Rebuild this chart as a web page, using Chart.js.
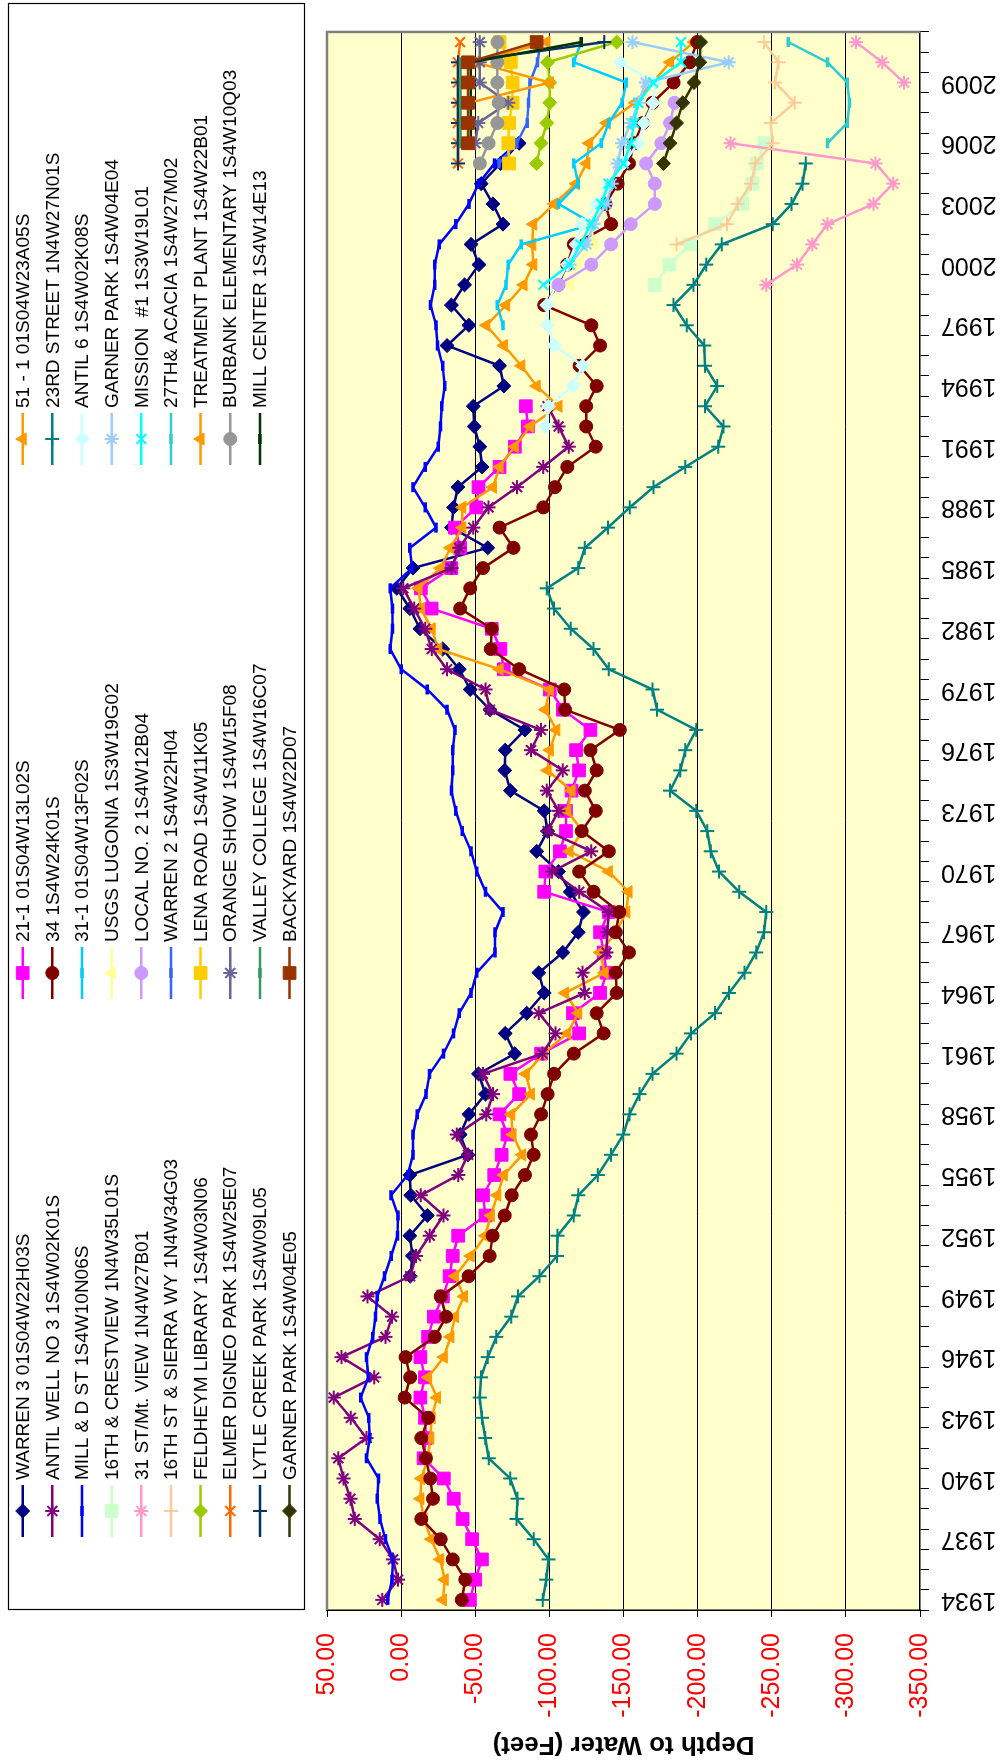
<!DOCTYPE html>
<html>
<head>
<meta charset="utf-8">
<script src="https://cdn.jsdelivr.net/npm/chart.js@4.4.1/dist/chart.umd.min.js"></script>
<style>
  html, body { margin: 0; padding: 0; background: #fff; overflow: hidden; }
  /* the chart is laid out landscape and turned a quarter to the left */
  #wrap {
    position: absolute; left: 0; top: 1762px;
    width: 1762px; height: 1005px;
    transform-origin: 0 0; transform: rotate(-90deg);
  }
</style>
</head>
<body>
<div id="wrap"><canvas id="chart" width="1762" height="1005"></canvas></div>
<script>
(() => {
  const YEARS = [
    1934, 1935, 1936, 1937, 1938, 1939, 1940, 1941, 1942, 1943,
    1944, 1945, 1946, 1947, 1948, 1949, 1950, 1951, 1952, 1953,
    1954, 1955, 1956, 1957, 1958, 1959, 1960, 1961, 1962, 1963,
    1964, 1965, 1966, 1967, 1968, 1969, 1970, 1971, 1972, 1973,
    1974, 1975, 1976, 1977, 1978, 1979, 1980, 1981, 1982, 1983,
    1984, 1985, 1986, 1987, 1988, 1989, 1990, 1991, 1992, 1993,
    1994, 1995, 1996, 1997, 1998, 1999, 2000, 2001, 2002, 2003,
    2004, 2005, 2006, 2007, 2008, 2009, 2010, 2011,
  ];

  const Y_TICKS = [50, 0, -50, -100, -150, -200, -250, -300, -350];

  // depth to water per well, each list starts at the year given beside it
  const warren3 = [ // 1950
    -6.1, -7.6, -5.9, -17.7, -6.5, -5.9, -45.1, -39.8, -45.7, -56.9,
    -52.2, -76.7, -70.2, -84.7, -96.5, -92.9, -109.1, -119.5, -123.0, -114.0,
    -106.2, -91.4, -98.8, -96.5, -73.7, -69.9, -70.2, -83.5, -59.9, -46.6,
    -39.2, -28.0, -12.7, -5.9, 2.9, -8.0, -58.4, -34.0, -35.4, -38.3,
    -54.6, -53.1, -49.3, -48.7, -69.3, -66.4, -31.0, -45.7, -33.9, -42.8,
    -52.5, -47.2, -68.7, -61.9, -54.0, -67.0, -79.6,
  ];
  const antilWell3 = [ // 1934
    12.7, 2.1, 5.5, 14.5, 31.2, 34.2, 38.8, 42.4, 23.3, 33.9,
    45.5, 18.2, 40.3, 10.6, 6.1, 22.7, -6.1, -10.0, -19.3, -28.6,
    -13.3, -38.6, -45.1, -37.5, -57.5, -61.9, -55.2, -95.3, -104.1, -92.9,
    -123.9, -122.4, -138.6, -139.0, -140.1, -120.1, -101.8, -128.3, -98.8, -106.2,
    -98.2, -109.1, -87.6, -94.4, -59.9, -56.9, -31.0, -20.6, -16.2, -8.8,
    -1.5, -33.9, -39.2, -48.7, -59.0, -78.2, -95.9, -113.0, -106.2, -98.8,
  ];
  const millD = [ // 1934
    9.1, 6.1, 5.5, 10.6, 14.2, 16.1, 15.2, 23.3, 21.2, 21.8,
    27.3, 22.1, 23.3, 19.1, 17.3, 16.1, 11.2, 6.7, 2.5, 2.1,
    6.8, -4.4, -8.0, -8.0, -10.9, -16.8, -19.2, -28.6, -35.4, -39.2,
    -47.2, -51.0, -63.4, -63.4, -68.7, -56.9, -51.0, -47.2, -41.3, -36.9,
    -33.9, -34.8, -34.8, -36.3, -31.0, -17.7, 0.0, 7.4, 5.9, 5.9,
    7.4, -7.4, -5.9, -23.6, -16.2, -8.0, -16.2, -25.1, -26.5, -27.4,
    -29.5, -28.0, -24.5, -23.6, -19.8, -22.7, -22.7, -25.7, -36.9, -45.7,
    -52.2, -63.0, -78.0,
  ];
  const crestview16 = [-171, -181, -195, -212, -230, -237, -240, -245]; // 1999
  const mtView31 = [ // 1999
    -246.3, -267.0, -277.3, -287.6, -318.6, -331.9, -320.0, -222.1, null, null,
    -339.2, -324.5, -306.8,
  ];
  const sierra16 = [-185.8, -219.8, -227.1, -236.0, -238.9, -250.7, -249.3, -265.5, -252.2, -254.6, -244.8]; // 2001
  const feldheym = [-91.4, -94.4, -98.2, -100.3, -100.3, -98.8, -145.4]; // 2005
  const elmerDigneo = [-38.3, -38.3, -38.3, -38.3, -38.3, -38.3, -39.8]; // 2005
  const lytleCreek = [-38.3, -38.3, -38.3, -38.3, -38.3, -38.3, -137.0]; // 2005
  const garnerE05 = [-177.0, -181.4, -185.8, -190.0, -197.6, -201.5, -202.0]; // 2005

  const well21 = [ // 1934
    -46.4, -50.0, -54.5, -47.9, -41.5, -35.5, -28.8, -15.2, -16.7, -16.1,
    -13.0, -16.1, -13.0, -18.2, -22.1, -28.2, -32.7, -34.8, -38.5, -56.9,
    -55.2, -62.8, -67.8, -71.7, -66.4, -79.6, -73.7, -94.4, -120.1, -115.9,
    -134.2, -138.6, -136.6, -134.2, -140.1, -96.5, -97.3, -107.1, -111.2, -111.2,
    -115.0, -120.0, -118.0, -127.7, -109.1, -100.3, -69.3, -67.0, -61.1, -20.6,
    -13.3, -33.9, -39.8, -36.3, -50.7, -52.2, -66.4, -76.7, -85.5, -84.1,
  ];
  const well34 = [ // 1934
    -40.9, -43.3, -34.8, -26.7, -13.6, -21.5, -19.7, -16.7, -13.6, -18.2,
    -2.4, -6.1, -3.0, -22.7, -30.3, -26.7, -45.5, -59.7, -61.7, -69.9,
    -74.6, -83.5, -89.4, -87.6, -94.4, -98.8, -103.2, -116.5, -136.6, -131.9,
    -145.4, -144.8, -153.7, -144.8, -147.2, -129.8, -120.1, -140.1, -121.8, -131.3,
    -123.9, -131.9, -127.7, -147.5, -110.6, -110.0, -79.6, -60.5, -61.1, -39.8,
    -46.6, -55.2, -75.8, -66.4, -95.9, -103.8, -112.1, -131.3, -124.8, -124.8,
    -131.9, -120.4, -134.2, -128.3, -96.5, -106.0, -112.0, -116.5, -141.6, -137.8,
    -146.0, -153.7, -157.2, -163.0, -169.6, -183.8, -194.7, -199.7,
  ];
  const well31 = [ // 1997
    -68.7, -64.9, -70.8, -72.3, -81.1, -129.8, -106.2, -119.5, -116.5, -135.0,
    -140.0, -149.0, -151.9, -116.5, -121.5,
  ];
  const lugonia = [-114, -118, -130, -128]; // 1999
  const local2 = [-106.2, -128.3, -141.6, -154.9, -171.1, -171.1, -165.2, -175.5, -181.4, -184.4]; // 1999
  const warren2 = [-66, -78, -85, -86, -87, -92, -94]; // 2005
  const lenaRoad = [-72.8, -72.3, -72.8, -75.2, -75.2, -74.0, -66.4]; // 2005
  const orangeShow = [-50, -52, -72.3, -53.1, -53.1, -53.1]; // 2006
  const valleyCollege = [-40, -40, -40, -40, -40]; // 2006
  const backyard = [-45.1, -45.1, -45.1, -45.1, -45.1, -91.4]; // 2006

  const well51 = [ // 1934
    -28.2, -29.4, -26.4, -20.3, -15.2, -13.0, -13.6, -18.2, -19.7, -20.6,
    -24.2, -18.2, -28.8, -33.3, -36.4, -42.4, -36.4, -46.9, -56.8, -60.5,
    -64.9, -69.3, -81.7, -75.2, -74.3, -87.6, -84.1, -95.9, -112.1, -119.5,
    -110.6, -137.2, -134.2, -145.0, -151.9, -153.4, -140.1, -113.6, -122.4, -112.1,
    -115.0, -98.8, -100.3, -104.7, -97.3, -100.3, -66.4, -25.1, -20.6, -13.3,
    -11.8, -26.5, -33.3, -41.3, -41.3, -61.9, -66.4, -76.7, -87.0, -106.2,
    -91.4, -81.1, -69.3, -57.5, -70.8, -82.6, -89.1, -88.5, -89.1, -103.2,
    -118.0, -125.0, -126.8, -138.6, -157.8, -169.6, -181.4, -197.6,
  ];
  const street23 = [ // 1934
    -95.5, -97.9, -99.4, -89.4, -77.9, -78.5, -73.6, -59.1, -56.7, -54.5,
    -53.0, -53.9, -58.5, -64.2, -74.2, -78.8, -93.3, -105.2, -105.5, -116.5,
    -119.5, -132.7, -141.6, -149.9, -154.0, -160.8, -169.6, -185.8, -195.6, -211.8,
    -221.2, -231.6, -239.5, -244.8, -246.3, -228.0, -214.5, -208.8, -206.5, -199.1,
    -181.4, -188.3, -191.7, -199.1, -172.6, -169.6, -140.1, -129.8, -114.5, -103.2,
    -98.2, -119.5, -123.9, -139.5, -154.3, -170.2, -191.7, -213.9, -217.4, -205.0,
    -213.3, -205.0, -204.4, -192.6, -183.8, -197.2, -205.9, -216.2, -250.7, -263.4,
    -270.8, -272.9,
  ];
  const antil6 = [ // 1992
    -97.3, -99.4, -115.9, -122.4, -103.2, -98.8, -98.2, -104.7, -112.1, -118.0,
    -122.0, -132.0, -140.0, -150.0, -160.0, -163.7, -170.0, -171.0, -148.0,
  ];
  const garnerE04 = [-113.6, -125, -130, -138.6, -142, -146, -149, -155, -160, -165, -221, -156]; // 2000
  const mission1 = [-95.9, -113.6, -121, -128, -135, -140, -150, -155, -157, -160, -170, -188.8, -188.8]; // 1999
  const acacia27 = [-287.6, -300.9, -302.4, -300.9, -287.6, -261.1]; // 2006
  const treatment = [-46, -100.3, -50, -98]; // 2008
  const burbank = [-53.1, -59.0, -64.9, -65.8, -64.9, -64.9, -65.0]; // 2005
  const millCenter = [-47, -47, -47, -47, -47, -121.5]; // 2006

  // legend columns, each read top to bottom
  const NAMES_A = [
    "WARREN 3 01S04W22H03S", "ANTIL WELL NO 3 1S4W02K01S", "MILL & D ST 1S4W10N06S",
    "16TH & CRESTVIEW 1N4W35L01S", "31 ST/Mt. VIEW 1N4W27B01", "16TH ST & SIERRA WY 1N4W34G03",
    "FELDHEYM LIBRARY 1S4W03N06", "ELMER DIGNEO PARK 1S4W25E07", "LYTLE CREEK PARK 1S4W09L05",
    "GARNER PARK 1S4W04E05",
  ];
  const NAMES_B = [
    "21-1 01S04W13L02S", "34 1S4W24K01S", "31-1 01S04W13F02S", "USGS LUGONIA 1S3W19G02",
    "LOCAL NO. 2 1S4W12B04", "WARREN 2 1S4W22H04", "LENA ROAD 1S4W11K05",
    "ORANGE SHOW 1S4W15F08", "VALLEY COLLEGE 1S4W16C07", "BACKYARD 1S4W22D07",
  ];
  const NAMES_C = [
    "51 - 1 01S04W23A05S", "23RD STREET 1N4W27N01S", "ANTIL 6 1S4W02K08S",
    "GARNER PARK 1S4W04E04", "MISSION  #1 1S3W19L01", "27TH& ACACIA 1S4W27M02",
    "TREATMENT PLANT 1S4W22B01", "BURBANK ELEMENTARY 1S4W10Q03", "MILL CENTER 1S4W14E13",
  ];

  const DATA_A = [warren3, antilWell3, millD, crestview16, mtView31, sierra16, feldheym, elmerDigneo, lytleCreek, garnerE05];
  const FROM_A = [1950, 1934, 1934, 1999, 1999, 2001, 2005, 2005, 2005, 2005];
  const DATA_B = [well21, well34, well31, lugonia, local2, warren2, lenaRoad, orangeShow, valleyCollege, backyard];
  const FROM_B = [1934, 1934, 1997, 1999, 1999, 2005, 2005, 2006, 2006, 2006];
  const DATA_C = [well51, street23, antil6, garnerE04, mission1, acacia27, treatment, burbank, millCenter];
  const FROM_C = [1934, 1934, 1992, 2000, 1999, 2006, 2008, 2005, 2006];

  // styles
  const COLOR_A = ["#000080", "#800080", "#0000FF", "#CCFFCC", "#FF99CC", "#FFCC99", "#99CC00", "#FF6600", "#003366", "#333300"];
  const MARK_A = ["rectRot", "star", "line", "rect", "star", "cross", "rectRot", "crossRot", "cross", "rectRot"];
  const COLOR_B = ["#FF00FF", "#800000", "#00CCFF", "#FFFF99", "#CC99FF", "#3366FF", "#FFCC00", "#666699", "#339966", "#993300"];
  const MARK_B = ["rect", "circle", "line", "triangle", "circle", "line", "rect", "star", "line", "rect"];
  const COLOR_C = ["#FF9900", "#008080", "#CCFFFF", "#99CCFF", "#00FFFF", "#33CCCC", "#FF9900", "#969696", "#003300"];
  const MARK_C = ["triangle", "cross", "rectRot", "star", "crossRot", "line", "triangle", "circle", "line"];

  const FONT = '"Liberation Sans", Arial, Helvetica, sans-serif';

  function spread(from, values) {
    const out = YEARS.map(() => null);
    values.forEach((v, i) => {
      const k = YEARS.indexOf(from + i);
      if (k >= 0) out[k] = v;
    });
    return out;
  }

  function markerRadius(style) {
    if (style === "rect") return 9;
    if (style === "line") return 5;
    if (style === "circle") return 6.5;
    return 7;
  }

  function markerBorder(style) {
    if (style === "line") return 3.5;
    if (style === "star" || style === "cross" || style === "crossRot") return 2;
    return 1;
  }

  // Excel legend order: row by row across the three columns
  const groups = [
    { names: NAMES_A, data: DATA_A, from: FROM_A, colors: COLOR_A, marks: MARK_A },
    { names: NAMES_B, data: DATA_B, from: FROM_B, colors: COLOR_B, marks: MARK_B },
    { names: NAMES_C, data: DATA_C, from: FROM_C, colors: COLOR_C, marks: MARK_C },
  ];
  const datasets = [];
  for (let row = 0; row < 10; row++) {
    groups.forEach((g, col) => {
      if (row >= g.names.length) return;
      const style = g.marks[row];
      datasets.push({
        label: g.names[row],
        data: spread(g.from[row], g.data[row]),
        borderColor: g.colors[row],
        backgroundColor: g.colors[row],
        pointBackgroundColor: g.colors[row],
        pointBorderColor: g.colors[row],
        borderWidth: 2.5,
        pointStyle: style,
        pointRadius: markerRadius(style),
        pointBorderWidth: markerBorder(style),
        spanGaps: false,
        order: -datasets.length,
        legendCol: col,
        legendRow: row,
      });
    });
  }

  const plotFrame = {
    id: "plotFrame",
    beforeDraw(chart) {
      const { ctx, chartArea: a } = chart;
      ctx.save();
      ctx.fillStyle = "#FFFFCC";
      ctx.fillRect(a.left, a.top, a.right - a.left, a.bottom - a.top);
      ctx.restore();
    },
    afterDraw(chart) {
      const { ctx, chartArea: a } = chart;
      ctx.save();
      ctx.strokeStyle = "#808080";
      ctx.lineWidth = 2.5;
      ctx.beginPath();
      ctx.moveTo(a.left, a.top);
      ctx.lineTo(a.right, a.top);
      ctx.lineTo(a.right, a.bottom);
      ctx.stroke();
      ctx.restore();
    },
  };

  const LEG_U = [251, 789, 1323];
  const legendBox = {
    id: "legendBox",
    afterDraw(chart) {
      const { ctx } = chart;
      ctx.save();
      ctx.fillStyle = "#FFFFFF";
      ctx.strokeStyle = "#000000";
      ctx.lineWidth = 1.2;
      ctx.fillRect(152, 8, 1606, 296);
      ctx.strokeRect(152.5, 8.5, 1606, 296);
      ctx.font = "19px " + FONT;
      ctx.textBaseline = "middle";
      chart.data.datasets.forEach((ds) => {
        const u = LEG_U[ds.legendCol];
        const v = 22.7 + ds.legendRow * 29.65;
        ctx.strokeStyle = ds.borderColor;
        ctx.lineWidth = 2.5;
        ctx.beginPath();
        ctx.moveTo(u - 26, v);
        ctx.lineTo(u + 26, v);
        ctx.stroke();
        ctx.fillStyle = ds.pointBackgroundColor;
        ctx.strokeStyle = ds.pointBorderColor;
        ctx.lineWidth = ds.pointBorderWidth;
        Chart.helpers.drawPoint(ctx, {
          pointStyle: ds.pointStyle,
          radius: ds.pointRadius,
          borderWidth: ds.pointBorderWidth,
          rotation: 0,
        }, u, v);
        ctx.fillStyle = "#000000";
        ctx.fillText(ds.label, u + 31, v + 1);
      });
      ctx.restore();
    },
  };

  new Chart(document.getElementById("chart"), {
    type: "line",
    data: { labels: YEARS.map(String), datasets },
    options: {
      responsive: false,
      animation: false,
      devicePixelRatio: 1,
      layout: { padding: { top: 327, right: 6, left: 0, bottom: 0 } },
      plugins: { legend: { display: false }, tooltip: { enabled: false } },
      elements: { line: { tension: 0 } },
      scales: {
        x: {
          type: "category",
          offset: true,
          afterFit: (s) => { s.height = 85; },
          grid: { offset: true, drawOnChartArea: false, drawTicks: true, tickLength: 9, color: "#000", tickColor: "#000" },
          border: { display: true, color: "#000", width: 1.5 },
          ticks: {
            autoSkip: false,
            maxRotation: 90,
            minRotation: 90,
            padding: 12,
            color: "#000",
            font: { family: FONT, size: 25 },
            callback: function (v, i) { return i % 3 === 0 ? this.getLabelForValue(v) : ""; },
          },
        },
        y: {
          min: Y_TICKS[Y_TICKS.length - 1],
          max: Y_TICKS[0],
          afterFit: (s) => { s.width = 152; },
          afterBuildTicks: (s) => { s.ticks = Y_TICKS.map((value) => ({ value })); },
          grid: {
            color: (c) => (c.tick && (c.tick.value === 50 || c.tick.value === -350) ? "rgba(0,0,0,0)" : "#000"),
            tickColor: "#000",
            lineWidth: 1,
            tickLength: 7,
          },
          border: { display: true, color: "#000", width: 1.5 },
          ticks: {
            padding: 16,
            color: "#FF0000",
            font: { family: FONT, size: 25 },
            callback: (v) => Number(v).toFixed(2),
          },
          title: {
            display: true,
            text: "Depth to Water (Feet)",
            color: "#000",
            font: { family: FONT, size: 26, weight: "bold" },
            padding: { top: 2, bottom: 0 },
          },
        },
      },
    },
    plugins: [plotFrame, legendBox],
  });
})();
</script>
</body>
</html>
